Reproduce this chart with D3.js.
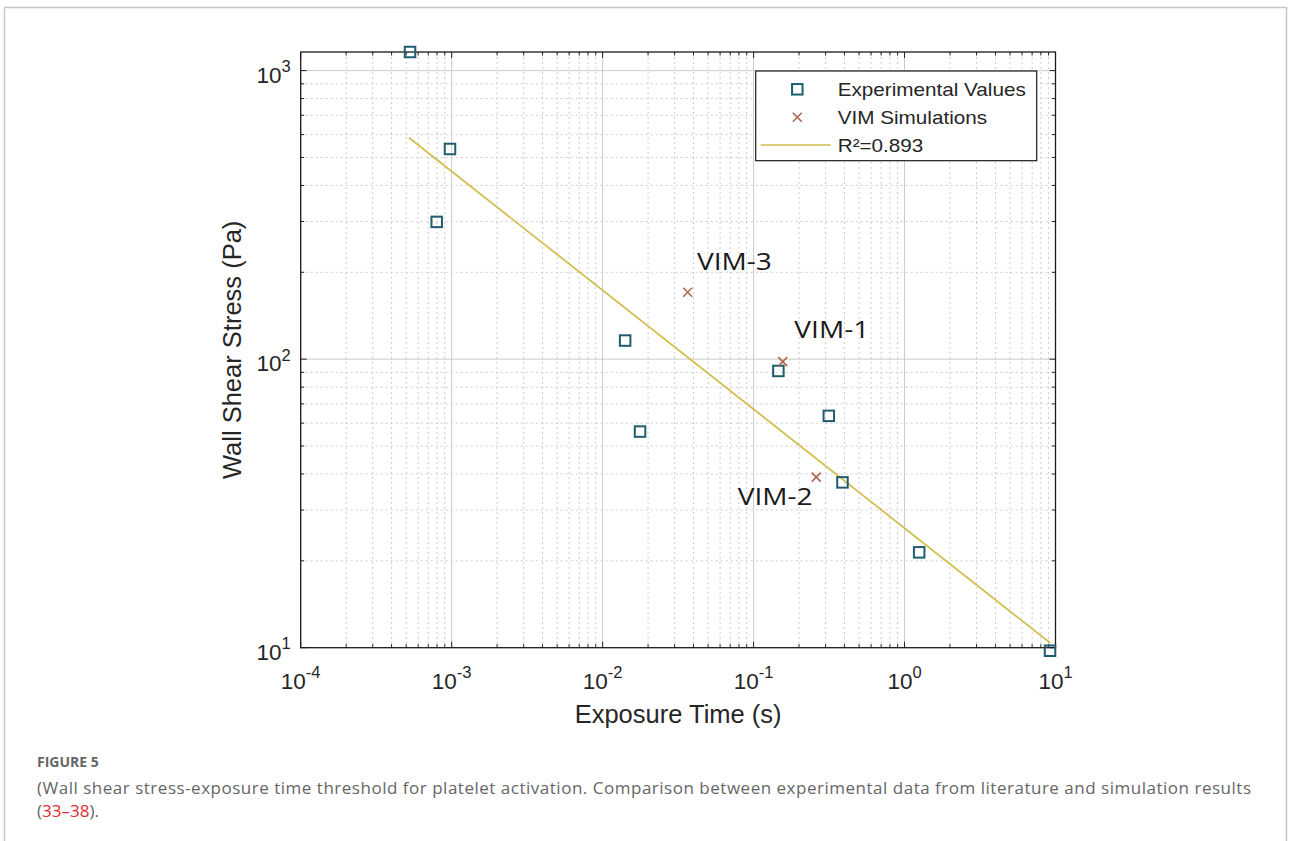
<!DOCTYPE html>
<html>
<head>
<meta charset="utf-8">
<script src="https://cdn.jsdelivr.net/npm/d3@7"></script>
<style>
  body { margin: 0; background: #fff; }
  svg { display: block; }
  .tick-label { font-family: "Liberation Sans", Arial, sans-serif; fill: #262626; font-size: 22.5px; }
  .axis-title { font-family: "Liberation Sans", Arial, sans-serif; fill: #262626; font-size: 25.5px; }
  .legend-text { font-family: "Liberation Sans", Arial, sans-serif; fill: #262626; font-size: 18px; }
  .vim-label { font-family: "Open Sans", sans-serif; fill: #1a1a1a; font-size: 24px; }
  .caption { font-family: "Open Sans", sans-serif; fill: #666; }
</style>
</head>
<body>
<svg id="chart"></svg>
<script>
const expTime   = [5.3e-4, 9.75e-4, 7.96e-4, 0.0141, 0.0177, 0.146, 0.315, 0.388, 1.25, 9.2];
const expStress = [1160,   535,     299,     116,    56.1,   91.0,  63.6,  37.4,  21.4, 9.76];

// VIM simulation results
const vimNames  = ["VIM-1", "VIM-2", "VIM-3"];
const vimTime   = [0.156, 0.260, 0.0366];
const vimStress = [98.0,  39.0,  170.6];

// fitted power-law line (end points)
const fitTime   = [5.22e-4, 9.2];
const fitStress = [585, 10.4];

const legendLabels = ["Experimental Values", "VIM Simulations", "R²=0.893"];

// axis ticks
const xTicks   = [1e-4, 1e-3, 1e-2, 1e-1, 1e0, 1e1];
const xTickExp = ["-4", "-3", "-2", "-1", "0", "1"];
const yTicks   = [10, 100, 1000];
const yTickExp = ["1", "2", "3"];
const xDomain  = [1e-4, 10];
const yDomain  = [10, 1160];

const captionTitle = "FIGURE 5";
const captionLine1 = "(Wall shear stress-exposure time threshold for platelet activation. Comparison between experimental data from literature and simulation results";
const captionRefs  = "33–38";

// ---- layout
const W = 1290, H = 841;
const margin = {top: 52, left: 300.7, right: W - 1055.5, bottom: H - 647.7};
const width = W - margin.left - margin.right;
const height = H - margin.top - margin.bottom;

const colExp = "#1f5d6e";
const colVim = "#b0674f";
const colFit = "#d0bd4c";

const svg = d3.select("#chart").attr("width", W).attr("height", H);

// outer frame of the figure panel
svg.append("rect")
  .attr("x", 4.5).attr("y", 7.5)
  .attr("width", 1282).attr("height", 900)
  .attr("fill", "none").attr("stroke", "#c6c6c6").attr("stroke-width", 1.5);

const chart = svg.append("g").attr("transform", `translate(${margin.left},${margin.top})`);

const x = d3.scaleLog().domain(xDomain).range([0, width]);
const y = d3.scaleLog().domain(yDomain).range([height, 0]);

const isMajor = v => Math.abs(Math.log10(v) - Math.round(Math.log10(v))) < 1e-9;
const xAll = x.ticks();
const yAll = y.ticks().filter(v => v <= yDomain[1]);

// grid: minor dotted, major solid
const grid = chart.append("g").attr("class", "grid");
xAll.forEach(v => {
  if (v <= xDomain[0] || v >= xDomain[1]) return;
  grid.append("line")
    .attr("x1", x(v)).attr("x2", x(v)).attr("y1", 0).attr("y2", height)
    .attr("stroke", isMajor(v) ? "#cbcbcb" : "#cccccc")
    .attr("stroke-width", 1)
    .attr("stroke-dasharray", isMajor(v) ? null : "2,3");
});
yAll.forEach(v => {
  if (v <= yDomain[0] || v >= yDomain[1]) return;
  grid.append("line")
    .attr("x1", 0).attr("x2", width).attr("y1", y(v)).attr("y2", y(v))
    .attr("stroke", isMajor(v) ? "#cbcbcb" : "#cccccc")
    .attr("stroke-width", 1)
    .attr("stroke-dasharray", isMajor(v) ? null : "2,3");
});

// inward ticks on all four sides
const ticks = chart.append("g").attr("stroke", "#262626").attr("stroke-width", 1);
xAll.forEach(v => {
  const len = isMajor(v) ? 6 : 3.5;
  ticks.append("line").attr("x1", x(v)).attr("x2", x(v)).attr("y1", height).attr("y2", height - len);
  ticks.append("line").attr("x1", x(v)).attr("x2", x(v)).attr("y1", 0).attr("y2", len);
});
yAll.forEach(v => {
  const len = isMajor(v) ? 6 : 3.5;
  ticks.append("line").attr("x1", 0).attr("x2", len).attr("y1", y(v)).attr("y2", y(v));
  ticks.append("line").attr("x1", width).attr("x2", width - len).attr("y1", y(v)).attr("y2", y(v));
});

// axes box
chart.append("rect")
  .attr("width", width).attr("height", height)
  .attr("fill", "none").attr("stroke", "#1a1a1a").attr("stroke-width", 1.3);

// tick labels with superscript exponents
xTicks.forEach((t, i) => {
  const txt = chart.append("text").attr("class", "tick-label")
    .attr("x", x(t)).attr("y", height + 41).attr("text-anchor", "middle");
  txt.append("tspan").text("10");
  txt.append("tspan").attr("dy", -10.5).attr("font-size", 16.5).text(xTickExp[i]);
});
yTicks.forEach((t, i) => {
  const txt = chart.append("text").attr("class", "tick-label")
    .attr("x", -10).attr("y", y(t) + 12).attr("text-anchor", "end");
  txt.append("tspan").text("10");
  txt.append("tspan").attr("dy", -10.5).attr("font-size", 16.5).text(yTickExp[i]);
});

// axis titles
chart.append("text").attr("class", "axis-title")
  .attr("x", width / 2).attr("y", height + 75)
  .attr("text-anchor", "middle")
  .text("Exposure Time (s)");
chart.append("text").attr("class", "axis-title")
  .attr("transform", `translate(${241 - margin.left},${height / 2}) rotate(-90)`)
  .attr("text-anchor", "middle")
  .text("Wall Shear Stress (Pa)");

// fit line
const fitData = fitTime.map((t, i) => [t, fitStress[i]]);
chart.append("path")
  .datum(fitData)
  .attr("fill", "none").attr("stroke", colFit).attr("stroke-width", 1.7)
  .attr("d", d3.line().x(d => x(d[0])).y(d => y(d[1])));

// experimental squares
const sq = 10.5;
chart.append("g").selectAll("rect")
  .data(expTime.map((t, i) => [t, expStress[i]]))
  .join("rect")
  .attr("x", d => x(d[0]) - sq / 2).attr("y", d => y(d[1]) - sq / 2)
  .attr("width", sq).attr("height", sq)
  .attr("fill", "none").attr("stroke", colExp).attr("stroke-width", 2);

// VIM crosses
const cr = 4.5;
const crossPath = (cx, cy) => `M${cx - cr},${cy - cr}L${cx + cr},${cy + cr}M${cx - cr},${cy + cr}L${cx + cr},${cy - cr}`;
chart.append("g").selectAll("path")
  .data(vimTime.map((t, i) => [t, vimStress[i]]))
  .join("path")
  .attr("d", d => crossPath(x(d[0]), y(d[1])))
  .attr("stroke", colVim).attr("stroke-width", 1.6).attr("fill", "none");

// VIM labels (slightly wide lettering, as in the source image)
const vimOffset = [[11.6, -23.4], [-78.5, 27.8], [9.3, -22.3]];
vimNames.forEach((n, i) => {
  const lx = x(vimTime[i]) + vimOffset[i][0];
  const ly = y(vimStress[i]) + vimOffset[i][1];
  chart.append("text").attr("class", "vim-label")
    .attr("transform", `translate(${lx},${ly}) scale(1.17,1)`)
    .text(n);
});

// legend
const lg = svg.append("g").attr("transform", "translate(755.7,71)");
lg.append("rect").attr("width", 281).attr("height", 89.7)
  .attr("fill", "#fff").attr("stroke", "#1a1a1a").attr("stroke-width", 1.2);
lg.append("rect").attr("x", 41.6 - sq / 2).attr("y", 18.3 - sq / 2)
  .attr("width", sq).attr("height", sq)
  .attr("fill", "none").attr("stroke", colExp).attr("stroke-width", 2);
lg.append("path").attr("d", crossPath(41.6, 46.3))
  .attr("stroke", colVim).attr("stroke-width", 1.6);
lg.append("line").attr("x1", 5).attr("x2", 75).attr("y1", 74).attr("y2", 74)
  .attr("stroke", colFit).attr("stroke-width", 1.7);
legendLabels.forEach((l, i) => {
  lg.append("text").attr("class", "legend-text")
    .attr("transform", `translate(82,${18.3 + i * 28}) scale(1.15,1)`)
    .attr("dy", "0.36em")
    .text(l);
});

// caption
svg.append("text").attr("class", "caption")
  .attr("x", 37).attr("y", 767)
  .attr("font-size", 14).attr("font-weight", 700)
  .text(captionTitle);
svg.append("text").attr("class", "caption")
  .attr("x", 37).attr("y", 794)
  .attr("font-size", 17)
  .attr("textLength", 1214).attr("lengthAdjust", "spacing")
  .text(captionLine1);
const c2 = svg.append("text").attr("class", "caption")
  .attr("x", 37).attr("y", 817).attr("font-size", 17);
c2.append("tspan").text("(");
c2.append("tspan").attr("fill", "#e0292f").text(captionRefs);
c2.append("tspan").text(").");
</script>
</body>
</html>
